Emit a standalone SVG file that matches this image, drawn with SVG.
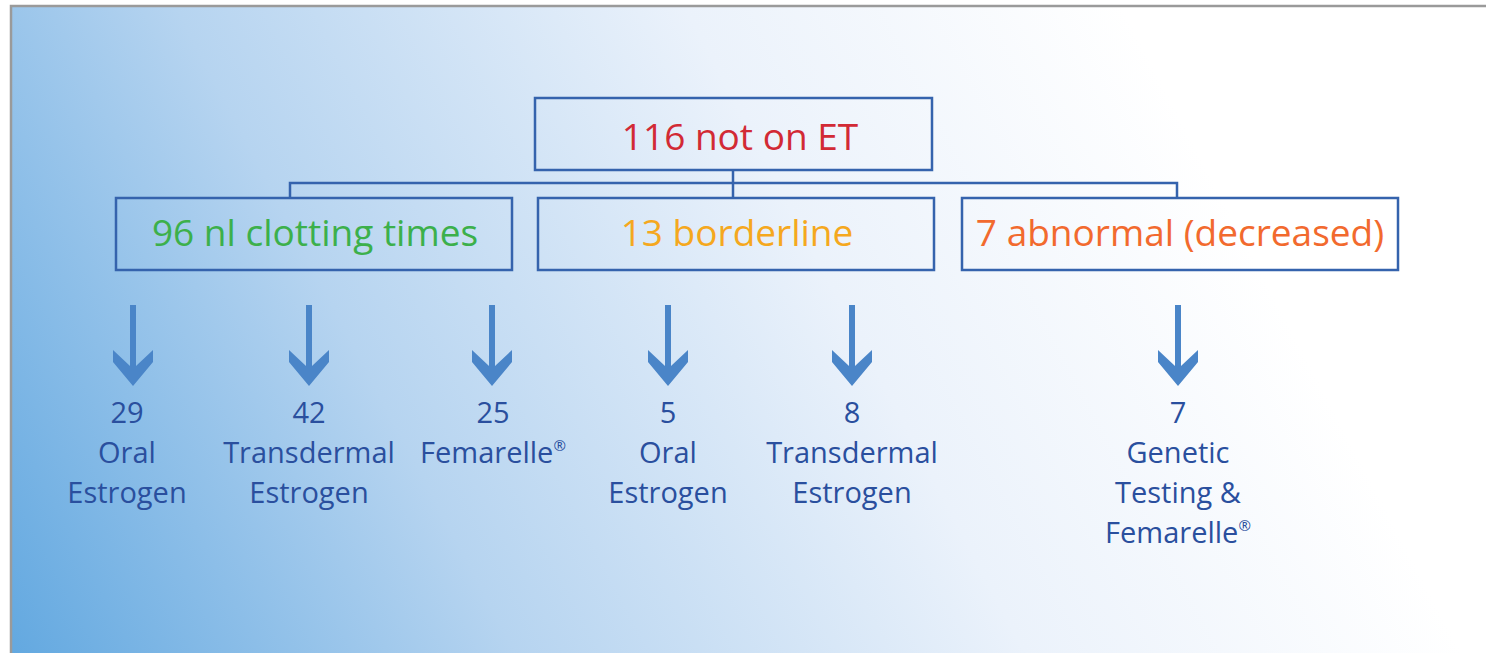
<svg xmlns="http://www.w3.org/2000/svg" width="1486" height="653" viewBox="0 0 1486 653">
<defs>
<linearGradient id="bg" gradientUnits="userSpaceOnUse" x1="10" y1="660" x2="1150" y2="60">
<stop offset="0" stop-color="#62a8e0"/>
<stop offset="0.35" stop-color="#b6d4f0"/>
<stop offset="0.7" stop-color="#ebf2fb"/>
<stop offset="1" stop-color="#ffffff"/>
</linearGradient>
<path id="arr" d="M-3,305 L3,305 L3,366 L20,350 L20,362 L0,386 L-20,362 L-20,350 L-3,366 Z" fill="#4a85c8"/>
</defs>
<style>
.box{fill:none;stroke:#3563ad;stroke-width:2.5}
.con{fill:none;stroke:#3563ad;stroke-width:2.5}
.h{font-family:"Open Sans",Lato,sans-serif;font-size:37px;text-anchor:middle}
.lb{font-family:"Open Sans",Lato,sans-serif;font-size:29px;fill:#2a4f9e;text-anchor:middle}
.sup{font-size:15px}
</style>
<rect x="0" y="0" width="1486" height="653" fill="#ffffff"/>
<rect x="11" y="6" width="1475" height="647" fill="url(#bg)"/>
<path d="M11,653 L11,6 L1486,6" fill="none" stroke="#9a9a9a" stroke-width="2.5"/>
<g id="connectors">
<path class="con" d="M733,170 V183 M290,198 V183 H1177 V198 M733,183 V198"/>
<use href="#arr" x="133"/>
<use href="#arr" x="309"/>
<use href="#arr" x="492"/>
<use href="#arr" x="668"/>
<use href="#arr" x="852"/>
<use href="#arr" x="1178"/>
</g>
<g id="root">
<rect class="box" x="535" y="98" width="397" height="72"/>
<text class="h" x="740" y="150" fill="#d22a35">116 not on ET</text>
</g>
<g id="normal">
<rect class="box" x="116" y="198" width="396" height="72"/>
<text class="h" x="315" y="246" fill="#3cb04b">96 nl clotting times</text>
</g>
<g id="borderline">
<rect class="box" x="538" y="198" width="396" height="72"/>
<text class="h" x="737" y="246" fill="#f5a81e">13 borderline</text>
</g>
<g id="abnormal">
<rect class="box" x="962" y="198" width="436" height="72"/>
<text class="h" x="1180" y="246" fill="#f26a2e">7 abnormal (decreased)</text>
</g>
<g id="n29"><text class="lb" x="127" y="423">29</text><text class="lb" x="127" y="463">Oral</text><text class="lb" x="127" y="503">Estrogen</text></g>
<g id="n42"><text class="lb" x="309" y="423">42</text><text class="lb" x="309" y="463">Transdermal</text><text class="lb" x="309" y="503">Estrogen</text></g>
<g id="n25"><text class="lb" x="493" y="423">25</text><text class="lb" x="493" y="463">Femarelle<tspan class="sup" dy="-12">®</tspan></text></g>
<g id="n5"><text class="lb" x="668" y="423">5</text><text class="lb" x="668" y="463">Oral</text><text class="lb" x="668" y="503">Estrogen</text></g>
<g id="n8"><text class="lb" x="852" y="423">8</text><text class="lb" x="852" y="463">Transdermal</text><text class="lb" x="852" y="503">Estrogen</text></g>
<g id="n7"><text class="lb" x="1178" y="423">7</text><text class="lb" x="1178" y="463">Genetic</text><text class="lb" x="1178" y="503">Testing &amp;</text><text class="lb" x="1178" y="543">Femarelle<tspan class="sup" dy="-12">®</tspan></text></g>
</svg>
